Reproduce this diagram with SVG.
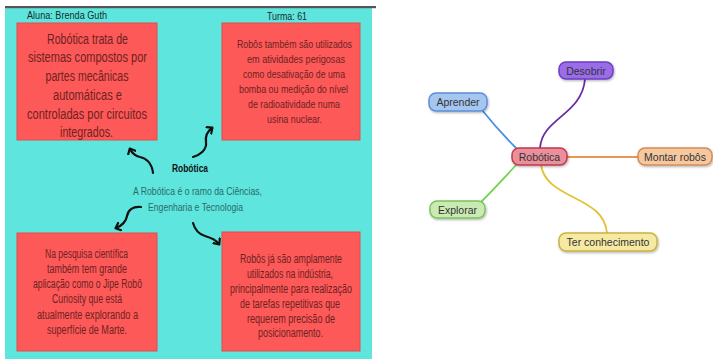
<svg xmlns="http://www.w3.org/2000/svg" width="713" height="361" viewBox="0 0 713 361">
<defs>
<style>
.box{fill:#fd5958;stroke:#e24c4c;stroke-width:1}
.bt{font-family:"Liberation Sans Narrow","Liberation Sans",Arial,sans-serif;fill:#6e2222;text-anchor:middle}
.hd{font-family:"Liberation Sans Narrow","Liberation Sans",Arial,sans-serif;fill:#1c2b2b;font-size:11px;text-anchor:middle}
.ct{font-family:"Liberation Sans Narrow","Liberation Sans",Arial,sans-serif;fill:#2d6b6b;font-size:11px;text-anchor:middle}
.arr{fill:none;stroke:#111;stroke-width:2.2;stroke-linecap:round}
.nd{stroke-width:1.5}
.nt{font-family:"Liberation Sans",Arial,sans-serif;font-size:10.5px;fill:#333;text-anchor:middle}
.cn{fill:none;stroke-width:1.8}
</style>
<marker id="ah" markerWidth="10" markerHeight="10" refX="5" refY="5" orient="auto" markerUnits="userSpaceOnUse">
<path d="M1,1 L5.5,5 L1,9" fill="none" stroke="#111" stroke-width="2.2" stroke-linecap="round" stroke-linejoin="round"/>
</marker>
<filter id="sh" x="-20%" y="-30%" width="140%" height="170%">
<feDropShadow dx="0.8" dy="1.2" stdDeviation="1" flood-color="#000" flood-opacity="0.3"/>
</filter>
</defs>
<rect x="0" y="0" width="713" height="361" fill="#fff"/>
<g id="panel">
<rect x="5" y="8" width="367" height="351" fill="#5ee5dd"/>
<rect x="5" y="6" width="371" height="2.2" fill="#555"/>
<text class="hd" x="67" y="19" textLength="80" lengthAdjust="spacingAndGlyphs">Aluna: Brenda Guth</text>
<text class="hd" x="287" y="20" textLength="40" lengthAdjust="spacingAndGlyphs">Turma: 61</text>
</g>
<g id="box-tl">
<rect class="box" x="17" y="23" width="140" height="117"/>
<g class="bt" font-size="14">
<text x="87.5" y="44" textLength="81" lengthAdjust="spacingAndGlyphs">Robótica trata de</text>
<text x="87.5" y="62" textLength="119" lengthAdjust="spacingAndGlyphs">sistemas compostos por</text>
<text x="87" y="81" textLength="83" lengthAdjust="spacingAndGlyphs">partes mecânicas</text>
<text x="87.5" y="100" textLength="69" lengthAdjust="spacingAndGlyphs">automáticas e</text>
<text x="87" y="119" textLength="120" lengthAdjust="spacingAndGlyphs">controladas por circuitos</text>
<text x="86.5" y="137" textLength="53" lengthAdjust="spacingAndGlyphs">integrados.</text>
</g>
</g>
<g id="box-tr">
<rect class="box" x="222" y="23" width="138" height="117"/>
<g class="bt" font-size="11">
<text x="294.5" y="48" textLength="115" lengthAdjust="spacingAndGlyphs">Robôs também são utilizados</text>
<text x="296" y="63" textLength="98" lengthAdjust="spacingAndGlyphs">em atividades perigosas</text>
<text x="294" y="78" textLength="102" lengthAdjust="spacingAndGlyphs">como desativação de uma</text>
<text x="293.5" y="93" textLength="109" lengthAdjust="spacingAndGlyphs">bomba ou medição do nível</text>
<text x="294" y="108" textLength="92" lengthAdjust="spacingAndGlyphs">de radioatividade numa</text>
<text x="294.5" y="123" textLength="55" lengthAdjust="spacingAndGlyphs">usina nuclear.</text>
</g>
</g>
<g id="box-bl">
<rect class="box" x="17" y="233" width="140" height="118"/>
<g class="bt" font-size="12">
<text x="86.5" y="258" textLength="83" lengthAdjust="spacingAndGlyphs">Na pesquisa científica</text>
<text x="87" y="273" textLength="80" lengthAdjust="spacingAndGlyphs">também tem grande</text>
<text x="87.5" y="288" textLength="109" lengthAdjust="spacingAndGlyphs">aplicação como o Jipe Robô</text>
<text x="87" y="303" textLength="70" lengthAdjust="spacingAndGlyphs">Curiosity que está</text>
<text x="87.5" y="319" textLength="101" lengthAdjust="spacingAndGlyphs">atualmente explorando a</text>
<text x="87" y="334" textLength="80" lengthAdjust="spacingAndGlyphs">superfície de Marte.</text>
</g>
</g>
<g id="box-br">
<rect class="box" x="222" y="232" width="138" height="119"/>
<g class="bt" font-size="12">
<text x="291" y="263" textLength="102" lengthAdjust="spacingAndGlyphs">Robôs já são amplamente</text>
<text x="290" y="278" textLength="86" lengthAdjust="spacingAndGlyphs">utilizados na indústria,</text>
<text x="291" y="293" textLength="122" lengthAdjust="spacingAndGlyphs">principalmente para realização</text>
<text x="290" y="308" textLength="100" lengthAdjust="spacingAndGlyphs">de tarefas repetitivas que</text>
<text x="291" y="323" textLength="88" lengthAdjust="spacingAndGlyphs">requerem precisão de</text>
<text x="290.5" y="337" textLength="65" lengthAdjust="spacingAndGlyphs">posicionamento.</text>
</g>
</g>
<g id="center">
<text x="190" y="172" font-family="'Liberation Sans Narrow','Liberation Sans',Arial,sans-serif" font-size="10.5" font-weight="bold" fill="#111" text-anchor="middle" textLength="36" lengthAdjust="spacingAndGlyphs">Robótica</text>
<text class="ct" x="197.5" y="195" textLength="129" lengthAdjust="spacingAndGlyphs">A Robótica é o ramo da Ciências,</text>
<text class="ct" x="195.5" y="211" textLength="95" lengthAdjust="spacingAndGlyphs">Engenharia e Tecnologia</text>
</g>
<g id="arrows">
<path class="arr" marker-end="url(#ah)" d="M153,173 C152,163 146,158 140,157 C135,156 132,153 130,149"/>
<path class="arr" marker-end="url(#ah)" d="M193,157 C200,155 207,150 206,142 C205,135 208,131 212,128"/>
<path class="arr" marker-end="url(#ah)" d="M141,207 C133,206 128,210 127,216 C126,222 121,226 116,228"/>
<path class="arr" marker-end="url(#ah)" d="M193,223 C195,230 198,234 205,236 C212,238 216,240 219,244"/>
</g>
<g id="connectors">
<path class="cn" stroke="#6a2aa8" d="M540,148 C542,118 582,115 585,79"/>
<path class="cn" stroke="#4a8fe2" d="M482,110 C494,125 506,138 517,149"/>
<path class="cn" stroke="#74d452" d="M517,164 C505,177 493,190 481,202"/>
<path class="cn" stroke="#e2c232" d="M541,165 C546,200 604,195 607,233"/>
<path class="cn" stroke="#ea9550" d="M567,157 L638,157"/>
</g>
<g id="n-robotica">
<rect class="nd" x="512" y="148" width="55" height="17" rx="7" fill="#ea8f9c" stroke="#c23a50" filter="url(#sh)"/>
<text class="nt" x="539.5" y="160.5">Robótica</text>
</g>
<g id="n-desobrir">
<rect class="nd" x="559" y="62" width="54" height="17" rx="7" fill="#9a6ce8" stroke="#6b3fc2" filter="url(#sh)"/>
<text class="nt" x="586" y="74.5">Desobrir</text>
</g>
<g id="n-aprender">
<rect class="nd" x="429" y="93" width="58" height="18" rx="7" fill="#a6c6f2" stroke="#5d8ed6" filter="url(#sh)"/>
<text class="nt" x="458" y="106">Aprender</text>
</g>
<g id="n-montar">
<rect class="nd" x="638" y="148" width="74" height="17" rx="7" fill="#f6c8a0" stroke="#d38c55" filter="url(#sh)"/>
<text class="nt" x="675" y="160.5">Montar robôs</text>
</g>
<g id="n-explorar">
<rect class="nd" x="430" y="201" width="55" height="17" rx="7" fill="#c9ebb2" stroke="#7cc262" filter="url(#sh)"/>
<text class="nt" x="457.5" y="213.5">Explorar</text>
</g>
<g id="n-ter">
<rect class="nd" x="559" y="233" width="98" height="18" rx="7" fill="#f6e9a2" stroke="#c9b244" filter="url(#sh)"/>
<text class="nt" x="608" y="246">Ter conhecimento</text>
</g>
</svg>
